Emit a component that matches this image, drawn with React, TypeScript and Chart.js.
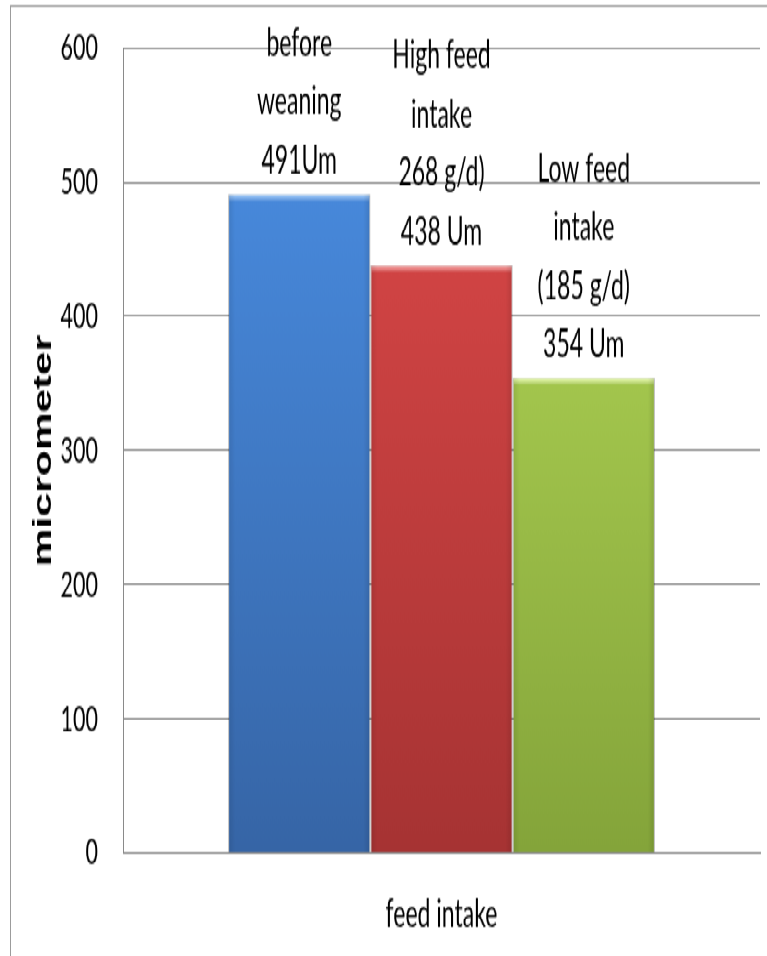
import { useEffect, useRef } from 'react';
import { Chart, registerables } from 'chart.js';

Chart.register(...registerables);

// Data
const categories = ['feed intake'];
const seriesNames = [
  ['before', 'weaning'],
  ['High feed', 'intake', '268 g/d)'],
  ['Low feed', 'intake', '(185 g/d)'],
];
const seriesValues = [491, 438, 354];
const valueUnits = ['Um', ' Um', ' Um'];
const yTickValues = [0, 100, 200, 300, 400, 500, 600];
const yAxisTitle = 'micrometer';

// Palette (top / bottom of each bar's gradient, bevel highlight)
const barTop = ['#4b90e6', '#e04a4a', '#b8dd5a'];
const barBottom = ['#3665a6', '#a63333', '#84a43a'];
const barShine = ['rgba(120,185,255,1)', 'rgba(255,130,130,1)', 'rgba(220,250,130,1)'];

// Page geometry: the chart is drawn on a short canvas and stretched vertically.
const PAGE_W = 767;
const PAGE_H = 956;
const STRETCH = 1.7;
const CANVAS_H = Math.round(PAGE_H / STRETCH);
const S = PAGE_H / CANVAS_H;

const AXIS_GRAY = '#8a8a8a';

const frame = {
  id: 'frame',
  beforeDraw(chart: Chart) {
    const { ctx } = chart;
    ctx.save();
    ctx.strokeStyle = '#9c9c9c';
    ctx.lineWidth = 1;
    ctx.strokeRect(10.5, 6 / S, PAGE_W + 50, CANVAS_H + 50);
    ctx.restore();
  },
};

const barDecor = {
  id: 'barDecor',
  afterDatasetsDraw(chart: Chart) {
    const { ctx } = chart;
    ctx.save();
    // bevel highlight along the top edge of each bar
    chart.data.datasets.forEach((_, i) => {
      const el: any = chart.getDatasetMeta(i).data[0];
      if (!el) return;
      const left = el.x - el.width / 2;
      const band = 7 / S;
      const g = ctx.createLinearGradient(0, el.y, 0, el.y + band);
      g.addColorStop(0, barShine[i]);
      g.addColorStop(1, 'rgba(255,255,255,0)');
      ctx.fillStyle = g;
      ctx.fillRect(left + 1, el.y + 0.5, el.width - 2, band);
      // soft shading on the side edges
      const side = ctx.createLinearGradient(left, 0, left + el.width, 0);
      side.addColorStop(0, 'rgba(0,0,0,0.10)');
      side.addColorStop(0.05, 'rgba(0,0,0,0)');
      side.addColorStop(0.95, 'rgba(0,0,0,0)');
      side.addColorStop(1, 'rgba(0,0,0,0.12)');
      ctx.fillStyle = side;
      ctx.fillRect(left, el.y, el.width, el.base - el.y);
    });

    // labels above the bars
    ctx.fillStyle = '#000';
    ctx.textAlign = 'center';
    ctx.textBaseline = 'alphabetic';
    ctx.font = '23px Lato';
    const lineStep = 58.5 / S;
    const gap = 21 / S;
    chart.data.datasets.forEach((_, i) => {
      const el: any = chart.getDatasetMeta(i).data[0];
      if (!el) return;
      const lines = [...seriesNames[i], `${seriesValues[i]}${valueUnits[i]}`];
      lines.forEach((t, k) => {
        const y = el.y - gap - (lines.length - 1 - k) * lineStep;
        ctx.fillText(t, el.x, y);
      });
    });
    ctx.restore();
  },
};

function gradientFor(i: number) {
  return (c: any) => {
    const area = c.chart.chartArea;
    if (!area) return barTop[i];
    const g = c.chart.ctx.createLinearGradient(0, area.top, 0, area.bottom);
    g.addColorStop(0, barTop[i]);
    g.addColorStop(1, barBottom[i]);
    return g;
  };
}

export default function App() {
  const canvasRef = useRef<HTMLCanvasElement>(null);

  useEffect(() => {
    if (!canvasRef.current) return;
    const chart = new Chart(canvasRef.current, {
      type: 'bar',
      data: {
        labels: categories,
        datasets: seriesValues.map((v, i) => ({
          label: seriesNames[i].join(' '),
          data: [v],
          backgroundColor: gradientFor(i),
          borderColor: 'rgba(0,0,0,0.18)',
          borderWidth: 1,
          barPercentage: 1,
          categoryPercentage: 0.67,
        })),
      },
      options: {
        animation: false,
        responsive: false,
        devicePixelRatio: 1,
        layout: { padding: { top: 48 / S, right: PAGE_W - 760, left: 0, bottom: 0 } },
        plugins: {
          legend: { display: false },
          tooltip: { enabled: false },
        },
        scales: {
          x: {
            grid: { display: false, drawTicks: false },
            border: { display: true, color: AXIS_GRAY, width: 1 },
            ticks: {
              color: '#000',
              padding: 22,
              font: { family: 'Lato', size: 23 },
            },
            afterFit: (s: any) => {
              s.height = CANVAS_H - 853 / S;
            },
          },
          y: {
            min: yTickValues[0],
            max: yTickValues[yTickValues.length - 1],
            afterBuildTicks: (s: any) => {
              s.ticks = yTickValues.map((value) => ({ value }));
            },
            grid: { color: AXIS_GRAY, drawTicks: false, lineWidth: 1 },
            border: { display: true, color: AXIS_GRAY, width: 1 },
            ticks: {
              color: '#000',
              padding: 25,
              font: { family: 'Lato', size: 21.5 },
            },
            title: {
              display: true,
              text: yAxisTitle,
              color: '#000',
              font: { family: 'Liberation Sans', weight: 'bold', size: 25 },
              padding: { top: 29, bottom: 0 },
            },
            afterFit: (s: any) => {
              s.width = 123;
              s.paddingTop = 0;
              s.paddingBottom = 0;
            },
          },
        },
      },
      plugins: [frame, barDecor],
    });
    return () => chart.destroy();
  }, []);

  return (
    <div
      style={{
        position: 'absolute',
        left: 0,
        top: 0,
        width: PAGE_W,
        height: CANVAS_H,
        transform: `scaleY(${S})`,
        transformOrigin: 'top left',
        background: '#fff',
      }}
    >
      <canvas ref={canvasRef} width={PAGE_W} height={CANVAS_H} style={{ display: 'block' }} />
    </div>
  );
}
